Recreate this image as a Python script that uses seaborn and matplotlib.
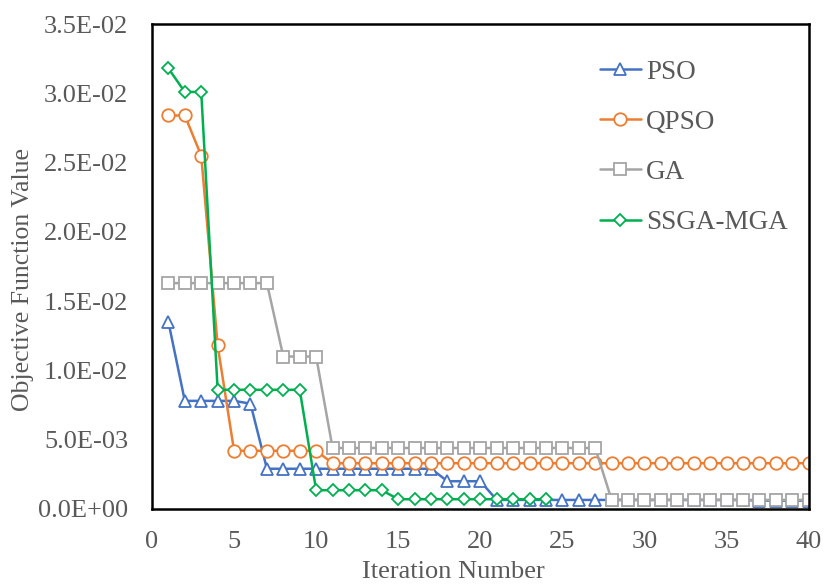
import matplotlib
matplotlib.use("Agg")
import matplotlib.pyplot as plt
import seaborn as sns
import pandas as pd
from matplotlib.ticker import FuncFormatter

series_names = ["PSO", "QPSO", "GA", "SSGA-MGA"]

pso = [0.0135, 0.0078, 0.0078, 0.0078, 0.0078, 0.0076, 0.0029, 0.0029, 0.0029, 0.0029,
       0.0029, 0.0029, 0.0029, 0.0029, 0.0029, 0.0029, 0.0029, 0.0020, 0.0020, 0.0020,
       0.00065, 0.00065, 0.00065, 0.00065, 0.00065, 0.00065, 0.00065, 0.00065, 0.00065, 0.00065,
       0.00065, 0.00065, 0.00065, 0.00065, 0.00065, 0.00065, 0.0006, 0.0006, 0.0006, 0.0006]
qpso = [0.0284, 0.0284, 0.0255, 0.0118, 0.0042, 0.0042, 0.0042, 0.0042, 0.0042, 0.0042,
        0.0033, 0.0033, 0.0033, 0.0033, 0.0033, 0.0033, 0.0033, 0.0033, 0.0033, 0.0033,
        0.0033, 0.0033, 0.0033, 0.0033, 0.0033, 0.0033, 0.0033, 0.0033, 0.0033, 0.0033,
        0.0033, 0.0033, 0.0033, 0.0033, 0.0033, 0.0033, 0.0033, 0.0033, 0.0033, 0.0033]
ga = [0.0163, 0.0163, 0.0163, 0.0163, 0.0163, 0.0163, 0.0163, 0.0110, 0.0110, 0.0110,
      0.0044, 0.0044, 0.0044, 0.0044, 0.0044, 0.0044, 0.0044, 0.0044, 0.0044, 0.0044,
      0.0044, 0.0044, 0.0044, 0.0044, 0.0044, 0.0044, 0.0044, 0.00065, 0.00065, 0.00065,
      0.00065, 0.00065, 0.00065, 0.00065, 0.00065, 0.00065, 0.00065, 0.00065, 0.00065, 0.00065]
ssga_mga = [0.0318, 0.0301, 0.0301, 0.0086, 0.0086, 0.0086, 0.0086, 0.0086, 0.0086, 0.00135,
            0.00135, 0.00135, 0.00135, 0.00135, 0.0007, 0.0007, 0.0007, 0.0007, 0.0007, 0.0007,
            0.0007, 0.0007, 0.0007, 0.0007]

x_ticks = [0, 5, 10, 15, 20, 25, 30, 35, 40]
y_ticks = [0.0, 0.005, 0.010, 0.015, 0.020, 0.025, 0.030, 0.035]

colors = ["#4472C4", "#ED7D31", "#A5A5A5", "#00B050"]
markers = ["^", "o", "s", "D"]
msizes = [8, 9, 8, 6.5]

sns.set_theme(style="white")
plt.rcParams["font.family"] = ["Liberation Serif", "DejaVu Serif"]
text_color = "#595959"

fig = plt.figure(figsize=(8.26, 5.87), dpi=100)
ax = fig.add_axes([0.184, 0.133, 0.795, 0.826])

all_series = [pso, qpso, ga, ssga_mga]
for name, vals, c, m, ms in zip(series_names, all_series, colors, markers, msizes):
    df = pd.DataFrame({"Iteration": list(range(1, len(vals) + 1)), "Value": vals})
    sns.lineplot(data=df, x="Iteration", y="Value", ax=ax, color=c, marker=m,
                 markersize=ms, markerfacecolor="white", markeredgecolor=c,
                 markeredgewidth=1.3, linewidth=1.8, label=name)

ax.set_xlim(0, 40)
ax.set_ylim(0, 0.035)
ax.set_xticks(x_ticks)
ax.set_yticks(y_ticks)
ax.yaxis.set_major_formatter(FuncFormatter(lambda v, p: f"{v:.1E}"))
ax.tick_params(axis="both", labelsize=19, labelcolor=text_color, length=0)
ax.tick_params(axis="x", pad=16)
ax.tick_params(axis="y", pad=17)
ax.set_xlabel("Iteration Number", fontsize=19, color=text_color)
ax.set_ylabel("Objective Function Value", fontsize=18.5, color=text_color)
ax.xaxis.set_label_coords(0.459, -0.108)
ax.yaxis.set_label_coords(-0.180, 0.474)

for sp in ax.spines.values():
    sp.set_color("black")
    sp.set_linewidth(1.8)

leg = ax.legend(loc="upper left", bbox_to_anchor=(0.645, 0.977), frameon=False,
                fontsize=19.5, labelspacing=0.93, handlelength=1.5, handletextpad=0.2)
for t in leg.get_texts():
    t.set_color(text_color)

fig.savefig("out.png", dpi=100)
